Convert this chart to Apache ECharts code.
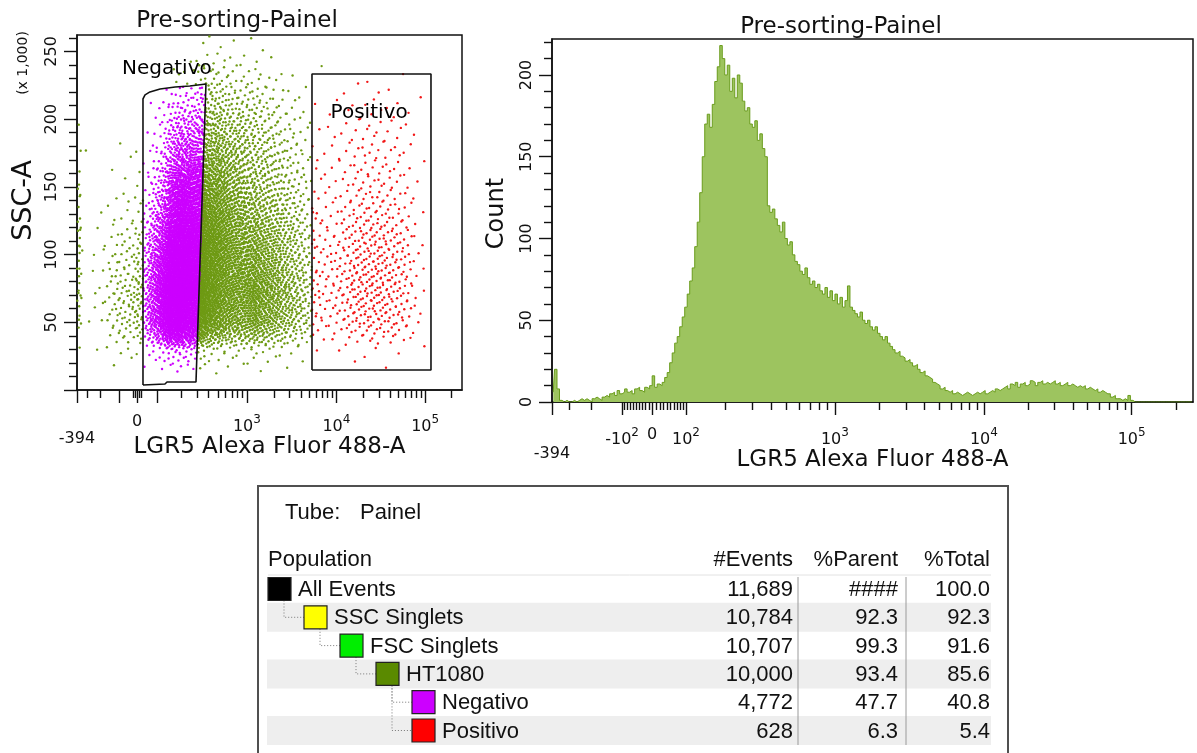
<!DOCTYPE html>
<html><head><meta charset="utf-8">
<script src="https://cdn.jsdelivr.net/npm/echarts@6/dist/echarts.min.js"></script>
<style>html,body{margin:0;padding:0;background:#fff}#c{width:1197px;height:753px}</style>
</head><body><div id="c"></div>
<script>
// ---------------- DATA ----------------
// Histogram of HT1080 events: count per 4-channel bin on the 1024-channel biexponential display scale
const histBinWidth = 4;
const histCounts = [
 6,20,8,1,0,1,0,0,1,0,
 1,2,1,2,1,0,2,3,2,1,
 3,4,3,5,6,4,7,5,6,8,
 6,7,5,8,9,7,6,9,8,10,
 16,9,11,10,12,15,18,24,30,36,
 40,46,52,58,66,74,82,95,110,128,
 150,170,176,168,182,196,205,218,210,200,
 206,190,198,186,200,195,184,178,180,170,
 168,172,160,164,155,150,120,116,118,112,
 108,104,110,100,96,98,90,86,84,80,
 78,82,76,72,74,70,72,68,66,70,
 64,68,62,66,60,64,58,62,71,58,
 56,54,52,55,50,48,50,46,44,46,
 42,40,38,40,36,34,32,30,31,28,
 27,25,26,24,22,23,20,18,19,16,
 15,14,12,11,10,8,9,7,6,7,
 5,6,5,4,5,6,5,4,5,6,
 5,6,7,5,6,7,6,8,7,8,
 9,10,8,11,10,12,9,11,12,10,
 11,13,12,10,12,13,11,12,11,12,
 13,11,12,10,11,12,10,11,10,9,
 10,9,10,8,9,8,7,8,6,7,
 6,5,5,3,4,2,2,1,2,1,
 4,1,0,0,0,0,0,0,0,0,
 0,0,0,0,0,0,0,0,0,0,
 0,0,0,0,0,0
];
// Relative SSC-A density at row centres (10k, 30k, ... 250k) for each 32-channel column of the dot plot
const ssyRowHeight = 20;
const ssyProfiles = [
 [0,0.5,2,3,3,3,2,2,1,0.5,0,0,0],
 [0,1,3,4,3,2,1,0.5,0.3,0,0,0,0],
 [0,1,3,4,3,2,1,0.5,0.3,0,0,0,0],
 [0,1,4,4,3,2,1,0.5,0.3,0,0,0,0],
 [0,0.8,4,5,3,2,1,0.6,0.3,0.1,0,0,0],
 [0,0.6,5,5,4,3,1.5,0.8,0.4,0.2,0,0,0],
 [0,0.5,6,6,5,3.5,2,1,0.5,0.3,0.1,0,0],
 [0,0.4,6,7,5.5,4,2.5,1.5,0.8,0.4,0.2,0,0],
 [0,0.4,6,7,6,5,4,3,1.5,0.8,0.3,0.1,0],
 [0,0.4,6,7,7,6,5,3.5,2,1,0.4,0.1,0],
 [0,0.4,5,6,6,6,5,4,2.5,1.5,0.7,0.3,0.1],
 [0,0.4,5,6,6,6,5,4,3,2,1.2,0.5,0.1],
 [0,0.4,5,6,6,6,5,4,3,2,1.2,0.5,0.1],
 [0,0.4,5,6,6,5.5,4.5,3.5,2.5,2,1,0.4,0.1],
 [0,0.5,6,7,6,5,3.5,2.5,2,1.5,1,0.4,0.1],
 [0,0.5,6,7,6,5,3.5,2.5,2,1.5,1,0.4,0.1],
 [0,0.5,6,7,6,5,3.5,2.5,2,1.5,0.8,0.3,0],
 [0,0.5,5,6,5,4,3,2,1.5,1,0.6,0.2,0],
 [0,0.5,5,6,5,4,3,2,1.5,1,0.6,0.2,0],
 [0,0.5,5,6,5,4,3,2,1.5,1,0.6,0.2,0],
 [0,0.6,5,6,6,5,3.5,2.5,2,1.5,1,0.2,0],
 [0,0.6,5,6,6,5,3.5,2.5,2,1.5,1,0.2,0],
 [0,0.6,5,6,6,5,3.5,2.5,2,1.5,1,0.2,0],
 [0,0.6,5,6,6,5,3.5,2.5,2,1.5,1,0.2,0],
 [0,0.6,5,6,6,5,3.5,2.5,2,1.5,1,0.2,0],
 [0,0.6,5,6,6,5,3.5,2.5,2,1.5,1,0.2,0],
 [0,0.6,5,6,6,5,3.5,2.5,2,1.5,1,0.2,0],
 [0,0.6,5,6,6,5,3.5,2.5,2,1.5,1,0.2,0],
 [0,0.6,5,6,6,5,3.5,2.5,2,1.5,1,0.2,0],
 [0,0.6,5,6,6,5,3.5,2.5,2,1.5,1,0.2,0],
 [0,1,2,3,2,2,1,1,0,0,0,0,0],
 [0,1,2,2,2,1,1,1,0,0,0,0,0]
];
// Gates (x in display channels, y in SSC-A x1000)
const negativoGateX = [175.5,175.5,181,194,221,261,300,343,316.5,239.4,234,175.5];
const negativoGateY = [3.7,214.9,217.9,220.1,222.3,223.8,224.5,226.0,5.9,5.9,4.4,3.7];
const positivoGateX = [625,625,941.5,941.5,625];
const positivoGateY = [14.8,233.4,233.4,14.8,14.8];
// Biexponential display scale: fluorescence value -> display channel anchors
const scaleAnchorValues = [-394,-300,-200,-100,0,100,1000,10000,100000,262144];
const scaleAnchorChannels = [0,27,62,112,160,214,452,690,926,1024];
// Axis ticks / labels (fluorescence values)
const xMajorTicks = [-394,-100,0,100,1000,10000,100000];
const xMinorTicksHist = [-300,-200,-90,-80,-70,-60,-50,-40,-30,-20,-10,10,20,30,40,50,60,70,80,90,
  200,300,400,500,600,700,800,900,2000,3000,4000,5000,6000,7000,8000,9000,
  20000,30000,40000,50000,60000,70000,80000,90000,200000];
const xMinorTicksDot = [-300,-200,-20,-10,10,20,
  200,300,400,500,600,700,800,900,2000,3000,4000,5000,6000,7000,8000,9000,
  20000,30000,40000,50000,60000,70000,80000,90000,200000];
const xLabelsDot = [0,1000,10000,100000];
const xLabelsHist = [-100,0,100,1000,10000,100000];
const sscMajorTicks = [0,50,100,150,200,250];
const sscMinorTicks = [10,20,30,40,60,70,80,90,110,120,130,140,160,170,180,190,210,220,230,240,260];
const sscLabels = [50,100,150,200,250];
const countMajorTicks = [0,50,100,150,200];
const countMinorTicks = [10,20,30,40,60,70,80,90,110,120,130,140,160,170,180,190,210,220];
const countLabels = [0,50,100,150,200];
// Population table
const popNames = ['All Events','SSC Singlets','FSC Singlets','HT1080','Negativo','Positivo'];
const popLevels = [0,1,2,3,4,4];
const popParents = [-1,0,1,2,3,3];
const popEvents = [11689,10784,10707,10000,4772,628];
const popPctParent = ['####','92.3','99.3','93.4','47.7','6.3'];
const popPctTotal = ['100.0','92.3','91.6','85.6','40.8','5.4'];

// ---------------- STYLE ----------------
const popColors = ['#000000','#FFFF00','#00EE00','#5A8A00','#CC00FF','#FF0000'];
const CH_MAX = 1024, SSC_MAX = 262.144, COUNT_MAX = 222;
const PF = 'DejaVu Sans';
const INK = '#111';
const TFONT = '22px "Liberation Sans"';

// ---------------- HELPERS ----------------
function toChannel(v){
  const A = scaleAnchorValues, C = scaleAnchorChannels;
  let i = 0; while (i < A.length - 2 && v > A[i+1]) i++;
  const z = x => Math.asinh(x/100);
  const t = (z(v) - z(A[i])) / (z(A[i+1]) - z(A[i]));
  return C[i] + t * (C[i+1] - C[i]);
}
function fluorLabel(v){
  if (v === 0) return '{b|0}';
  const e = Math.round(Math.log10(Math.abs(v)));
  return '{b|' + (v < 0 ? '-' : '') + '10}{s|' + e + '}';
}
function labelFromChannel(list){
  return function(ch){
    let best = list[0], d = 1e9;
    list.forEach(v => { const dd = Math.abs(toChannel(v) - ch); if (dd < d){ d = dd; best = v; } });
    return fluorLabel(best);
  };
}
// leaped Halton low-discrepancy sequence (deterministic placement inside density cells)
function halton(i, b){ let f = 1, r = 0; while (i > 0){ f /= b; r += f * (i % b); i = Math.floor(i / b); } return r; }
function inPoly(x, y, px, py){
  let ins = false;
  for (let i = 0, j = px.length - 1; i < px.length; j = i++){
    if (((py[i] > y) !== (py[j] > y)) && (x < (px[j]-px[i])*(y-py[i])/(py[j]-py[i]) + px[i])) ins = !ins;
  }
  return ins;
}
function profileAt(ch){
  const p = ch/32 - 0.5; let c0 = Math.floor(p), t = p - c0;
  if (c0 < 0){ c0 = 0; t = 0; } if (c0 >= ssyProfiles.length - 1){ c0 = ssyProfiles.length - 1; t = 0; }
  const a = ssyProfiles[c0], b = ssyProfiles[Math.min(c0+1, ssyProfiles.length-1)];
  return a.map((w,k) => w*(1-t) + b[k]*t);
}
// fine CDF of a profile (density linear between row centres), step 1k
function fineCdf(prof){
  const n = Math.floor(SSC_MAX), cdf = [0];
  for (let j = 0; j < n; j++){
    const y = j + 0.5, pos = y/ssyRowHeight - 0.5;
    let k = Math.floor(pos), t = pos - k, d;
    if (k < 0) d = prof[0]; else if (k >= prof.length - 1) d = prof[prof.length-1];
    else d = prof[k]*(1-t) + prof[k+1]*t;
    cdf.push(cdf[j] + d);
  }
  return cdf;
}
function sampleCdf(cdf, u){
  const q = u * cdf[cdf.length-1];
  let lo = 0, hi = cdf.length - 1;
  while (hi - lo > 1){ const m = (lo+hi) >> 1; if (cdf[m] < q) lo = m; else hi = m; }
  const span = cdf[hi] - cdf[lo];
  return lo + (span > 0 ? (q - cdf[lo]) / span : 0.5);
}

// Build dot-plot events from the histogram (x marginal) and SSC profiles
const greenPts = [], magentaPts = [], redPts = [];
let seq = 11;
histCounts.forEach((n, b) => {
  if (!n) return;
  const cdf = fineCdf(profileAt(b*histBinWidth + histBinWidth/2));
  for (let k = 0; k < n; k++){
    seq++;
    const y = sampleCdf(cdf, halton(seq*409, 3));
    const x = b*histBinWidth + halton(seq*409, 2)*histBinWidth;
    const pt = [x, y];
    if (inPoly(x, y, negativoGateX, negativoGateY)) magentaPts.push(pt);
    else if (inPoly(x, y, positivoGateX, positivoGateY)) redPts.push(pt);
    else greenPts.push(pt);
  }
});

// ---------------- AXES ----------------
const tickStyle = {color: INK, width: 1.4};
const supRich = {b:{fontFamily:PF, fontSize:16, color:INK}, s:{fontFamily:PF, fontSize:12, color:INK, padding:[0,0,14,0]}};
function xAxes(gi, minors, labels, lblMargin, minMargin, nameGap){
  return [
    {gridIndex: gi, type:'value', min:0, max:CH_MAX, position:'bottom',
     axisLine:{show:true, onZero:false, lineStyle:{color:INK, width:1.5}},
     axisTick:{show:true, length:13, customValues: xMajorTicks.map(toChannel), lineStyle: tickStyle},
     axisLabel:{show:true, customValues: labels.map(toChannel), formatter: labelFromChannel(labels),
       margin: lblMargin, color: INK, fontFamily: PF, fontSize: 16, hideOverlap:false, rich: supRich},
     splitLine:{show:false},
     name:'LGR5 Alexa Fluor 488-A', nameLocation:'middle', nameGap: nameGap,
     nameTextStyle:{color: INK, fontFamily: PF, fontSize: 23}},
    {gridIndex: gi, type:'value', min:0, max:CH_MAX, position:'bottom',
     axisLine:{show:false, onZero:false}, axisTick:{show:true, length:8, customValues: minors.map(toChannel), lineStyle: tickStyle},
     axisLabel:{show:false}, splitLine:{show:false}},
    {gridIndex: gi, type:'value', min:0, max:CH_MAX, position:'bottom',
     axisLine:{show:false, onZero:false}, axisTick:{show:false},
     axisLabel:{show:true, customValues:[toChannel(-394)], formatter: () => '-394', margin: minMargin,
       color: INK, fontFamily: PF, fontSize: 16, hideOverlap:false}, splitLine:{show:false}}
  ];
}
function yAxes(gi, max, majors, minors, labels, name, nameGap, nameSize, namePad){
  return [
    {gridIndex: gi, type:'value', min:0, max:max, position:'left',
     axisLine:{show:true, onZero:false, lineStyle:{color:INK, width:1.5}},
     axisTick:{show:true, length:13, customValues: majors, lineStyle: tickStyle},
     axisLabel:{show:true, customValues: labels, rotate: 90, margin: 17, color: INK, fontFamily: PF, fontSize: 16, hideOverlap:false},
     splitLine:{show:false},
     name: name, nameLocation:'middle', nameRotate: 90, nameGap: nameGap,
     nameTextStyle:{color: INK, fontFamily: PF, fontSize: nameSize, padding: namePad}},
    {gridIndex: gi, type:'value', min:0, max:max, position:'left',
     axisLine:{show:false, onZero:false}, axisTick:{show:true, length:8, customValues: minors, lineStyle: tickStyle},
     axisLabel:{show:false}, splitLine:{show:false}}
  ];
}

// ---------------- TABLE (graphic) ----------------
const graphic = [];
const tbl = {x:258, y:486, w:750, h:290, rowY0:589, rowH:28.3, sqX0:268, sqStep:36, sq:23,
  colEvents:793, colParent:898, colTotal:990, sep1:798, sep2:906, bandX0:267, bandX1:991};
function ttext(x, y, text, align, z){
  return {type:'text', z: z || 6, x:x, y:y, style:{text:text, font:TFONT, fill:INK, align:align, verticalAlign:'middle'}};
}
graphic.push({type:'rect', z:1, shape:{x:tbl.x, y:tbl.y, width:tbl.w, height:tbl.h}, style:{fill:'#fff', stroke:'#505050', lineWidth:2}});
graphic.push(ttext(285, 513, 'Tube:', 'left'));
graphic.push(ttext(360, 513, 'Painel', 'left'));
graphic.push(ttext(268, 560, 'Population', 'left'));
graphic.push(ttext(tbl.colEvents, 560, '#Events', 'right'));
graphic.push(ttext(tbl.colParent, 560, '%Parent', 'right'));
graphic.push(ttext(tbl.colTotal, 560, '%Total', 'right'));
graphic.push({type:'line', z:3, shape:{x1:268, y1:575, x2:991, y2:575}, style:{stroke:'#e2e2e2', lineWidth:1}});
popNames.forEach((nm, i) => {
  const cy = tbl.rowY0 + i*tbl.rowH;
  if (i % 2 === 1) graphic.push({type:'rect', z:2, shape:{x:tbl.bandX0, y:cy-14.5, width:tbl.bandX1-tbl.bandX0, height:29}, style:{fill:'#eeeeee'}});
  const sx = tbl.sqX0 + popLevels[i]*tbl.sqStep;
  graphic.push({type:'rect', z:6, shape:{x:sx, y:cy-tbl.sq/2, width:tbl.sq, height:tbl.sq}, style:{fill:popColors[i], stroke:'#222', lineWidth:1.2}});
  graphic.push(ttext(sx+tbl.sq+7, cy+1, nm, 'left'));
  graphic.push(ttext(tbl.colEvents, cy+1, popEvents[i].toLocaleString('en-US'), 'right'));
  graphic.push(ttext(tbl.colParent, cy+1, popPctParent[i], 'right'));
  graphic.push(ttext(tbl.colTotal, cy+1, popPctTotal[i], 'right'));
  const p = popParents[i];
  if (p >= 0){
    const px = tbl.sqX0 + popLevels[p]*tbl.sqStep + 16;
    const py = tbl.rowY0 + p*tbl.rowH + tbl.sq/2;
    graphic.push({type:'polyline', z:4, shape:{points:[[px,py],[px,cy],[sx,cy]]}, style:{stroke:'#777', lineWidth:1, lineDash:[1,2], fill:null}});
  }
});
[tbl.sep1, tbl.sep2].forEach(x => graphic.push({type:'line', z:5, shape:{x1:x, y1:577, x2:x, y2:745}, style:{stroke:'#9a9a9a', lineWidth:1}}));
graphic.push({type:'text', z:5, x:23, y:63, rotation:Math.PI/2, style:{text:'(x 1,000)', font:'14px "DejaVu Sans"', fill:INK, align:'center', verticalAlign:'middle'}});

// ---------------- CHART ----------------
const chart = echarts.init(document.getElementById('c'), null, {renderer:'canvas'});
const scatterCommon = {type:'scatter', xAxisIndex:0, yAxisIndex:0, symbol:'circle', symbolSize:2.4, progressive:0, large:false, silent:true, animation:false};
const option = {
  animation:false,
  backgroundColor:'#ffffff',
  title:[
    {text:'Pre-sorting-Painel', left:232, top:5, textAlign:'center', textStyle:{fontFamily:PF, fontSize:23, fontWeight:'normal', color:INK}},
    {text:'Pre-sorting-Painel', left:836, top:11, textAlign:'center', textStyle:{fontFamily:PF, fontSize:23, fontWeight:'normal', color:INK}}
  ],
  grid:[
    {left:77, top:35, width:385, height:355, show:true, borderColor:INK, borderWidth:1.5, backgroundColor:'transparent', containLabel:false, outerBoundsMode:'none'},
    {left:552, top:39, width:641, height:363, show:true, borderColor:INK, borderWidth:1.5, backgroundColor:'transparent', containLabel:false, outerBoundsMode:'none'}
  ],
  xAxis: [].concat(xAxes(0, xMinorTicksDot, xLabelsDot, 24, 41, 42), xAxes(1, xMinorTicksHist, xLabelsHist, 25, 44, 44)),
  yAxis: [].concat(yAxes(0, SSC_MAX, sscMajorTicks, sscMinorTicks, sscLabels, 'SSC-A', 40, 27, [0,0,0,24]),
                   yAxes(1, COUNT_MAX, countMajorTicks, countMinorTicks, countLabels, 'Count', 43, 24, [0,0,0,14])),
  graphic: graphic,
  series:[
    Object.assign({}, scatterCommon, {name:'HT1080', data:greenPts, itemStyle:{color:'#6E9A14', opacity:1}}),
    Object.assign({}, scatterCommon, {name:'Negativo', data:magentaPts, itemStyle:{color:'#CC00FF', opacity:1}}),
    Object.assign({}, scatterCommon, {name:'Positivo', data:redPts, itemStyle:{color:'#F21818', opacity:1}}),
    {type:'line', xAxisIndex:0, yAxisIndex:0, data:negativoGateX.map((x,i)=>[x, negativoGateY[i]]), symbol:'none', silent:true,
     lineStyle:{color:INK, width:1.6}, z:5},
    {type:'line', xAxisIndex:0, yAxisIndex:0, data:positivoGateX.map((x,i)=>[x, positivoGateY[i]]), symbol:'none', silent:true,
     lineStyle:{color:INK, width:1.6}, z:5},
    {type:'scatter', xAxisIndex:0, yAxisIndex:0, symbolSize:0, silent:true, z:6,
     data:[{value:[239,237], name:'Negativo'}, {value:[777,205], name:'Positivo'}],
     label:{show:true, position:'inside', formatter:'{b}', color:'#000', opacity:1, textBorderWidth:0, fontFamily:PF, fontSize:20},
     itemStyle:{opacity:1}},
    {type:'line', xAxisIndex:3, yAxisIndex:2, step:'middle', symbol:'none', silent:true,
     data: histCounts.map((c,i) => [i*histBinWidth + histBinWidth/2, c]),
     lineStyle:{color:'#6A9C1C', width:1}, areaStyle:{color:'#9DC45F', opacity:1}}
  ]
};
chart.setOption(option);
</script></body></html>
